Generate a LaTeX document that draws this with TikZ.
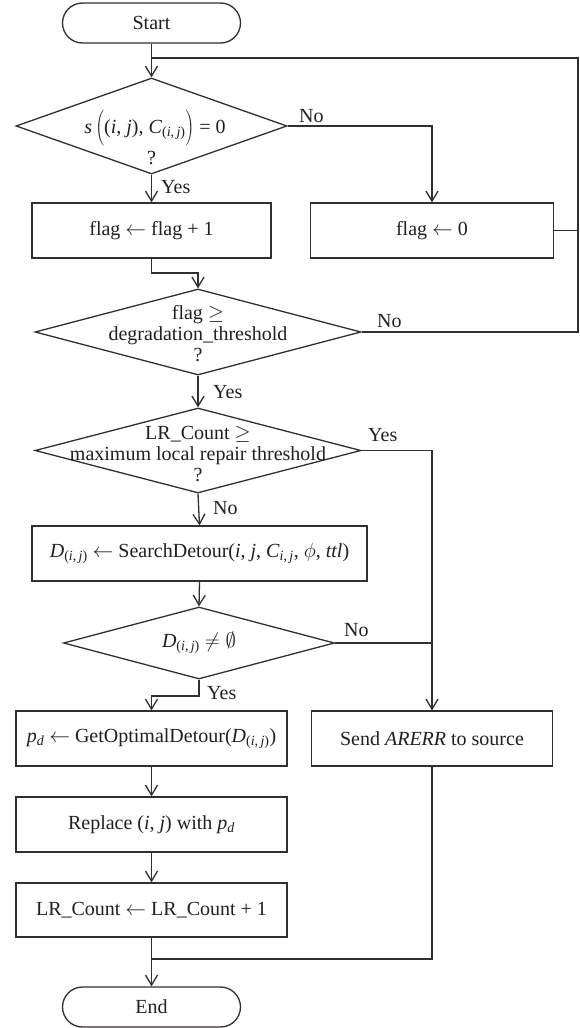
\documentclass[tikz,border=0pt]{standalone}
\usepackage{fontspec}
\setmainfont{Liberation Serif}
\usetikzlibrary{shapes.geometric,arrows.meta}
\definecolor{ln}{RGB}{50,47,48}
\definecolor{tx}{RGB}{35,31,32}
\begin{document}
\begin{tikzpicture}[x=1pt,y=-1pt,
  every node/.style={text=tx, font=\fontsize{20}{21}\selectfont},
  box/.style={draw=ln, line width=1.3pt, rectangle, inner sep=0pt, minimum height=55pt},
  term/.style={draw=ln, line width=1.3pt, rectangle, rounded corners=20pt, minimum width=178pt, minimum height=40pt, inner sep=0pt},
  dia/.style={draw=ln, line width=1.3pt, diamond, inner sep=0pt},
  dtext/.style={align=center, inner sep=0pt},
  conn/.style={draw=ln, line width=1.3pt},
  arr/.style={conn, -{Straight Barb[length=10pt,width=12pt,line width=1.3pt]}},
  lbl/.style={inner sep=0pt},
]
\fill[white] (0,0) rectangle (580,1028);
\useasboundingbox (0,0) rectangle (580,1028);

% nodes
\node[term] (start) at (151.5,23) {Start};
\node[dia, minimum width=271pt, minimum height=96pt] (d1) at (151.5,126) {};
\node[dtext] (d1t) at (155,128) {\textit{s}\,$\left(\rule[-13pt]{0pt}{37pt}\mbox{(\textit{i}, \textit{j}), \textit{C}\textsubscript{(\textit{i},\,\textit{j})}}\right)$ = 0};
\node[dtext] (d1q) at (151.5,158) {?};
\node[box, minimum width=239pt] (b1) at (151.5,230.5) {flag $\leftarrow$ flag + 1};
\node[box, minimum width=243pt] (b2) at (432,230.5) {flag $\leftarrow$ 0};
\node[dia, minimum width=326pt, minimum height=86pt] (d2) at (198,332) {};
\node[dtext] (d2t) at (198,334) {flag $\geq$\\degradation\_threshold\\?};
\node[dia, minimum width=326pt, minimum height=85pt] (d3) at (198,450.5) {};
\node[dtext] (d3t) at (198,454) {LR\_Count $\geq$\\maximum local repair threshold\\?};
\node[box, minimum width=335pt] (b3) at (199.5,553.5) {\textit{D}\textsubscript{(\textit{i},\,\textit{j})} $\leftarrow$ SearchDetour(\textit{i}, \textit{j}, \textit{C}\textsubscript{\textit{i},\,\textit{j}}, $\phi$, \textit{ttl})};
\node[dia, minimum width=271pt, minimum height=72pt] (d4) at (199,643) {};
\node[dtext] (d4t) at (199,643) {\textit{D}\textsubscript{(\textit{i},\,\textit{j})} $\neq\emptyset$};
\node[box, minimum width=271pt] (b4) at (151.5,738.5) {\textit{p}\textsubscript{\textit{d}} $\leftarrow$ GetOptimalDetour(\textit{D}\textsubscript{(\textit{i},\,\textit{j})})};
\node[box, minimum width=241pt] (b5) at (432,738.5) {Send \textit{ARERR} to source};
\node[box, minimum width=271pt] (b6) at (151.5,824.5) {Replace (\textit{i}, \textit{j}) with \textit{p}\textsubscript{\textit{d}}};
\node[box, minimum width=271pt, minimum height=54pt] (b7) at (151.5,910) {LR\_Count $\leftarrow$ LR\_Count + 1};
\node[term] (end) at (151.5,1007) {End};

% labels
\node[lbl, anchor=west] (l1) at (299,116) {No};
\node[lbl, anchor=west] (l2) at (161,187) {Yes};
\node[lbl, anchor=west] (l3) at (377,321) {No};
\node[lbl, anchor=west] (l4) at (213,392) {Yes};
\node[lbl, anchor=west] (l5) at (368,435) {Yes};
\node[lbl, anchor=west] (l6) at (213,508) {No};
\node[lbl, anchor=west] (l7) at (344,630) {No};
\node[lbl, anchor=west] (l8) at (207,693) {Yes};

% coordinates
\coordinate (j1) at (151.5,58);
\coordinate (rtop) at (578,58);
\coordinate (j2) at (198,273);
\coordinate (j3) at (199,696);
\coordinate (j4) at (151.5,959);

% connectors
\draw[arr] (start.south) -- (d1.north);
\draw[conn] (d2.east) -| (rtop) -- (j1);
\draw[conn] (b2.east) -- (b2.east -| rtop);
\draw[arr] (d1.east) -| (b2.north);
\draw[arr] (d1.south) -- (b1.north);
\draw[arr] (b1.south) |- (j2) -- (d2.north);
\draw[arr] (d2.south) -- (d3.north);
\draw[arr] (d3.south) -- (b3.north);
\draw[arr] (d3.east) -| (b5.north);
\draw[arr] (b3.south) -- (d4.north);
\draw[conn] (d4.east) -- (d4.east -| b5.north);
\draw[arr] (d4.south) -- (j3) -| (b4.north);
\draw[arr] (b4.south) -- (b6.north);
\draw[arr] (b6.south) -- (b7.north);
\draw[conn] (b5.south) |- (j4);
\draw[arr] (b7.south) -- (end.north);
\end{tikzpicture}
\end{document}
